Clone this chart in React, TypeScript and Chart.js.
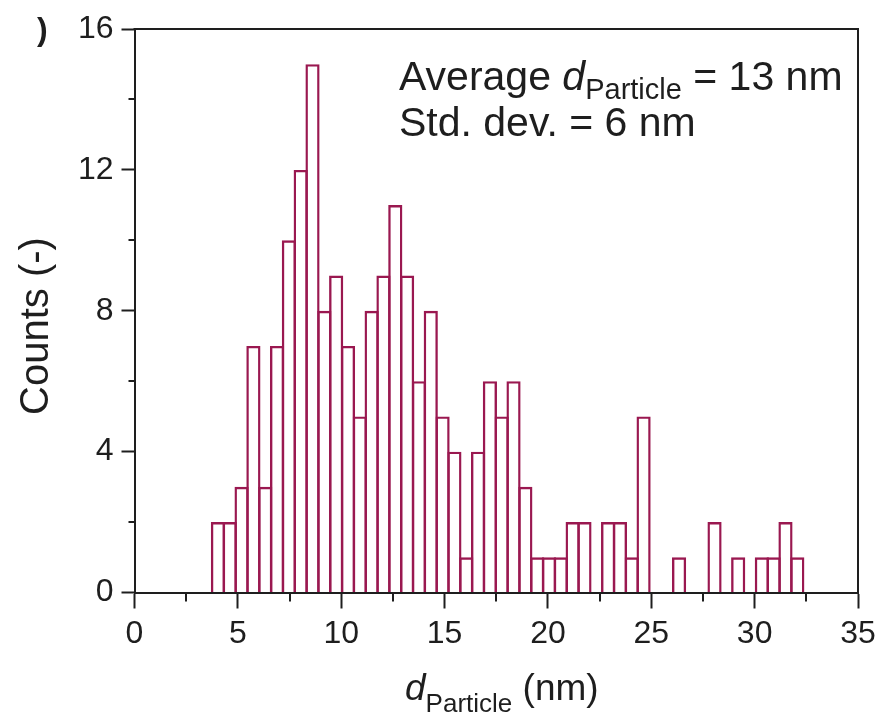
import React, { useEffect, useRef } from "react";
import { Chart, registerables } from "chart.js";

Chart.register(...registerables);

// Histogram data
const binStart = 3.75; // nm, left edge of first bin
const binWidth = 0.572; // nm
const counts = [
  2, 2, 3, 7, 3, 7, 10, 12, 15, 8,
  9, 7, 5, 8, 9, 11, 9, 6, 8, 5,
  4, 1, 4, 6, 5, 6, 3, 1, 1, 1,
  2, 2, 0, 2, 2, 1, 5, 0, 0, 1,
  0, 0, 2, 0, 1, 0, 1, 1, 2, 1,
];
const xMajorTicks = [0, 5, 10, 15, 20, 25, 30, 35];
const xMinorTicks = [2.5, 7.5, 12.5, 17.5, 22.5, 27.5, 32.5];
const yMajorTicks = [0, 4, 8, 12, 16];
const yMinorTicks = [2, 6, 10, 14];
const annotationLine1 = ["Average ", "d", "Particle", " = 13 nm"];
const annotationLine2 = "Std. dev. = 6 nm";
const yTitle = "Counts (-)";
const xTitle = ["d", "Particle", " (nm)"];

const FONT = "'Liberation Sans', Arial, sans-serif";
const BAR_COLOR = "#9a1850";
const INK = "#1e1e1e";

const decorPlugin = {
  id: "decor",
  afterDraw(chart: any) {
    const { ctx, chartArea } = chart;
    const { left, right, top, bottom } = chartArea;
    const xs = chart.scales.x;
    const ys = chart.scales.y;
    ctx.save();
    ctx.strokeStyle = INK;
    ctx.lineWidth = 2;
    ctx.beginPath();
    ctx.moveTo(left - 1, top);
    ctx.lineTo(right, top);
    ctx.lineTo(right, bottom);
    ctx.stroke();
    ctx.beginPath();
    for (const v of xMinorTicks) {
      const px = Math.round(xs.getPixelForValue(v));
      ctx.moveTo(px, bottom);
      ctx.lineTo(px, bottom + 9);
    }
    for (const v of yMinorTicks) {
      const py = Math.round(ys.getPixelForValue(v));
      ctx.moveTo(left, py);
      ctx.lineTo(left - 6, py);
    }
    ctx.stroke();

    ctx.fillStyle = INK;
    ctx.textBaseline = "alphabetic";
    ctx.textAlign = "left";

    // annotation line 1
    let x = 399;
    const base1 = 90;
    ctx.font = `41px ${FONT}`;
    ctx.fillText(annotationLine1[0], x, base1);
    x += ctx.measureText(annotationLine1[0]).width;
    ctx.font = `italic 41px ${FONT}`;
    ctx.fillText(annotationLine1[1], x, base1);
    x += ctx.measureText(annotationLine1[1]).width;
    ctx.font = `29px ${FONT}`;
    ctx.fillText(annotationLine1[2], x, base1 + 9);
    x += ctx.measureText(annotationLine1[2]).width;
    ctx.font = `41px ${FONT}`;
    ctx.fillText(annotationLine1[3], x, base1);
    // annotation line 2
    ctx.fillText(annotationLine2, 399, 136);

    // x title
    ctx.font = `italic 37px ${FONT}`;
    const w1 = ctx.measureText(xTitle[0]).width;
    ctx.font = `26px ${FONT}`;
    const w2 = ctx.measureText(xTitle[1]).width;
    let tx = 405;
    const baseX = 700;
    ctx.font = `italic 37px ${FONT}`;
    ctx.fillText(xTitle[0], tx, baseX);
    tx += w1;
    ctx.font = `26px ${FONT}`;
    ctx.fillText(xTitle[1], tx, baseX + 12);
    tx += w2;
    ctx.font = `37px ${FONT}`;
    ctx.fillText(xTitle[2], tx, baseX);

    // y title
    ctx.save();
    ctx.translate(48, 326);
    ctx.rotate(-Math.PI / 2);
    ctx.textAlign = "center";
    ctx.font = `40px ${FONT}`;
    ctx.fillText(yTitle, 0, 0);
    ctx.restore();

    // cropped panel label fragment
    ctx.font = `bold 32px ${FONT}`;
    ctx.fillText(")", 37, 40);
    ctx.restore();
  },
};

export default function App() {
  const ref = useRef<HTMLCanvasElement>(null);
  useEffect(() => {
    document.body.style.margin = "0";
    const data = counts
      .map((c, i) => ({ x: binStart + (i + 0.5) * binWidth, y: c }))
      .filter((d) => d.y > 0);
    const chart = new Chart(ref.current!, {
      type: "bar",
      data: {
        datasets: [
          {
            data,
            backgroundColor: "rgba(255,255,255,0)",
            borderColor: BAR_COLOR,
            borderWidth: 2.4,
            borderSkipped: "start",
            inflateAmount: 0,
            barPercentage: 1.2,
            categoryPercentage: 1,
          } as any,
        ],
      },
      options: {
        animation: false,
        responsive: false,
        devicePixelRatio: 1,
        layout: { padding: { left: 0, top: 29, right: 25, bottom: 0 } },
        plugins: { legend: { display: false }, tooltip: { enabled: false } },
        scales: {
          x: {
            type: "linear",
            min: 0,
            max: 35,
            offset: false,
            afterFit(scale: any) {
              scale.height = 718 - 592.5;
            },
            afterBuildTicks(scale: any) {
              scale.ticks = xMajorTicks.map((v) => ({ value: v }));
            },
            grid: {
              offset: false,
              drawOnChartArea: false,
              drawTicks: true,
              tickLength: 16,
              tickColor: INK,
              tickWidth: 2,
            },
            border: { display: true, color: INK, width: 2 },
            ticks: {
              color: INK,
              font: { family: FONT, size: 32 },
              padding: 6,
              maxRotation: 0,
            },
          },
          y: {
            type: "linear",
            min: 0,
            max: 16,
            afterFit(scale: any) {
              scale.width = 134.5;
            },
            afterBuildTicks(scale: any) {
              scale.ticks = yMajorTicks.map((v) => ({ value: v }));
            },
            grid: {
              drawOnChartArea: false,
              drawTicks: true,
              tickLength: 13,
              tickColor: INK,
              tickWidth: 2,
            },
            border: { display: true, color: INK, width: 2 },
            ticks: {
              color: INK,
              font: { family: FONT, size: 32 },
              padding: 8,
            },
          },
        },
      },
      plugins: [decorPlugin],
    });
    return () => chart.destroy();
  }, []);
  return (
    <div style={{ width: 883, height: 718, background: "#fff" }}>
      <canvas ref={ref} width={883} height={718} />
    </div>
  );
}
